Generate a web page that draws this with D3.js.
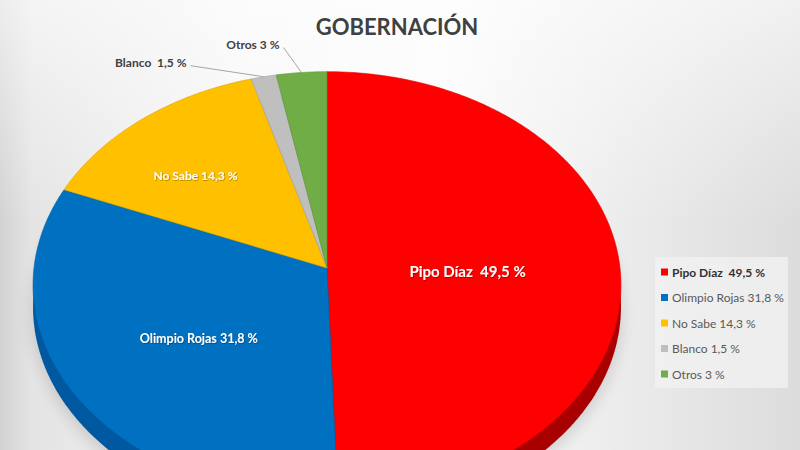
<!DOCTYPE html>
<html>
<head>
<meta charset="utf-8">
<script src="https://cdn.jsdelivr.net/npm/d3@7"></script>
<style>
  html, body { margin: 0; padding: 0; background: #fff; }
  svg { display: block; }
  text { font-family: Lato, "Open Sans", sans-serif; white-space: pre; }
</style>
</head>
<body>
<svg id="chart" width="800" height="450"></svg>
<script>
const title = "GOBERNACIÓN";
const names = ["Pipo Díaz", "Olimpio Rojas", "No Sabe", "Blanco", "Otros"];
const values = [49.5, 31.8, 14.3, 1.5, 3];
const sliceLabels = ["Pipo Díaz  49,5 %", "Olimpio Rojas 31,8 %", "No Sabe 14,3 %", "Blanco  1,5 %", "Otros 3 %"];
const legendLabels = ["Pipo Díaz  49,5 %", "Olimpio Rojas 31,8 %", "No Sabe 14,3 %", "Blanco 1,5 %", "Otros 3 %"];
const colors = ["#ff0000", "#0070c0", "#ffc000", "#bfbfbf", "#70ad47"];
const sideColors = ["#a80000", "#0058a0", "#d9a300", "#a0a0a0", "#5a8f38"];

const svg = d3.select("#chart");
const W = 800, H = 450;

// perspective pie: centre of the disc, horizontal / vertical radius, perspective factor, rim depth
const cx = 327, cy = 268, rx = 293, ry = 212, k = 0.08, depth = 22;

function project(theta, r, dy = 0) {
  const z = 1 + k * r * Math.cos(theta);
  return [cx + rx * r * Math.sin(theta) / z, cy - ry * r * Math.cos(theta) / z + dy];
}

function slicePath(d, dy) {
  const n = Math.max(2, Math.ceil((d.endAngle - d.startAngle) / 0.01));
  const a = d3.scaleLinear().domain([0, n]).range([d.startAngle, d.endAngle]);
  const pts = [project(0, 0, dy)].concat(d3.range(n + 1).map(i => project(a(i), 1, dy)));
  return d3.line()(pts) + "Z";
}

// -------------------- background --------------------
const defs = svg.append("defs");
const bgH = defs.append("linearGradient").attr("id", "bgH").attr("x1", 0).attr("x2", 1).attr("y1", 0).attr("y2", 0);
[[0, "#d2d2d2"], [0.04, "#e4e4e4"], [0.3, "#f6f6f6"], [0.55, "#fbfbfb"], [0.8, "#eaeaea"], [1, "#dcdcdc"]]
  .forEach(([o, c]) => bgH.append("stop").attr("offset", o).attr("stop-color", c));
const bgV = defs.append("linearGradient").attr("id", "bgV").attr("x1", 0).attr("x2", 0).attr("y1", 0).attr("y2", 1);
bgV.append("stop").attr("offset", 0).attr("stop-color", "#fff").attr("stop-opacity", 0.6);
bgV.append("stop").attr("offset", 0.5).attr("stop-color", "#fff").attr("stop-opacity", 0);

const shadow = defs.append("filter").attr("id", "txtShadow").attr("x", "-10%").attr("y", "-30%").attr("width", "120%").attr("height", "160%");
shadow.append("feDropShadow").attr("dx", 0.6).attr("dy", 0.6).attr("stdDeviation", 0.6)
  .attr("flood-color", "#000").attr("flood-opacity", 0.45);

const blur = defs.append("filter").attr("id", "pieShadow").attr("x", "-20%").attr("y", "-20%").attr("width", "140%").attr("height", "140%");
blur.append("feGaussianBlur").attr("stdDeviation", 8);

svg.append("rect").attr("width", W).attr("height", H).attr("fill", "url(#bgH)");
svg.append("rect").attr("width", W).attr("height", H).attr("fill", "url(#bgV)");

// -------------------- title --------------------
svg.append("text")
  .attr("x", 397).attr("y", 26)
  .attr("text-anchor", "middle").attr("dominant-baseline", "central")
  .attr("font-size", 22).attr("font-weight", 700).attr("fill", "#404040")
  .text(title);

// -------------------- pie --------------------
const arcs = d3.pie().sort(null).value(d => d)(values);

// soft shadow under the disc
svg.append("path")
  .attr("d", slicePath({ startAngle: 0, endAngle: 2 * Math.PI }, depth + 6))
  .attr("fill", "#000").attr("opacity", 0.15)
  .attr("filter", "url(#pieShadow)");

// rim (the same disc dropped by the depth, darker)
svg.append("g").selectAll("path")
  .data(arcs)
  .join("path")
  .attr("d", d => slicePath(d, depth))
  .attr("fill", (d, i) => sideColors[i]);

// top face
svg.append("g").selectAll("path")
  .data(arcs)
  .join("path")
  .attr("d", d => slicePath(d, 0))
  .attr("fill", (d, i) => colors[i])
  .attr("stroke", (d, i) => d3.color(colors[i]).darker(0.4))
  .attr("stroke-width", 0.6)
  .attr("stroke-linejoin", "round");

// inside labels
const innerR = [0.48, 0.52, 0.7];
const innerSize = [15, 12.5, 12];
const innerShift = [5, 6, 14];
arcs.forEach((d, i) => {
  if (i > 2) return;
  const mid = (d.startAngle + d.endAngle) / 2;
  const [x, y] = project(mid, innerR[i]);
  svg.append("text")
    .attr("x", x).attr("y", y + innerShift[i])
    .attr("text-anchor", "middle").attr("dominant-baseline", "central")
    .attr("font-size", innerSize[i]).attr("font-weight", 700).attr("fill", "#fff")
    .attr("filter", "url(#txtShadow)")
    .text(sliceLabels[i]);
});

// outside labels with leader lines
const outerOffset = { 3: [-73, -11], 4: [-18, -25] };
arcs.forEach((d, i) => {
  if (!outerOffset[i]) return;
  const mid = (d.startAngle + d.endAngle) / 2;
  const [ex, ey] = project(mid, 1);
  const ax = ex + outerOffset[i][0], ay = ey + outerOffset[i][1];
  svg.append("line")
    .attr("x1", ex).attr("y1", ey).attr("x2", ax).attr("y2", ay)
    .attr("stroke", "#a6a6a6").attr("stroke-width", 1);
  svg.append("text")
    .attr("x", ax - 4).attr("y", ay - 3)
    .attr("text-anchor", "end").attr("dominant-baseline", "central")
    .attr("font-size", 12).attr("font-weight", 700).attr("fill", "#404040")
    .text(sliceLabels[i]);
});

// -------------------- legend --------------------
const legend = svg.append("g").attr("transform", "translate(655,257)");
legend.append("rect")
  .attr("width", 133).attr("height", 131)
  .attr("fill", "#f1f1f1").attr("opacity", 0.8);

const row = d3.scalePoint().domain(d3.range(names.length)).range([15, 117]);
const items = legend.selectAll("g.item")
  .data(names)
  .join("g")
  .attr("class", "item")
  .attr("transform", (d, i) => `translate(0,${row(i)})`);

items.append("rect")
  .attr("x", 6).attr("y", -3.5).attr("width", 7).attr("height", 7)
  .attr("fill", (d, i) => colors[i]);

items.append("text")
  .attr("x", 17).attr("y", 0)
  .attr("dominant-baseline", "central")
  .attr("font-size", 12)
  .attr("font-weight", (d, i) => i === 0 ? 700 : 400)
  .attr("fill", (d, i) => i === 0 ? "#333" : "#595959")
  .text((d, i) => legendLabels[i]);
</script>
</body>
</html>
